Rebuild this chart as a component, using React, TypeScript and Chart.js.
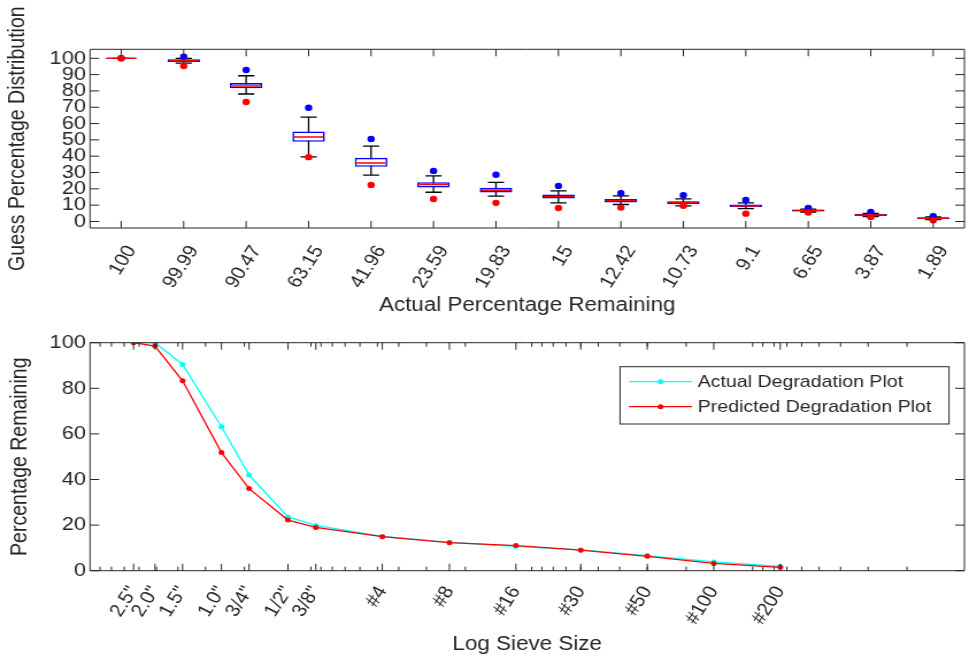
import React, { useEffect, useRef } from 'react';
import { Chart, registerables } from 'chart.js';

Chart.register(...registerables);

// ---------- data ----------
const boxCategories = ['100', '99.99', '90.47', '63.15', '41.96', '23.59', '19.83', '15', '12.42', '10.73', '9.1', '6.65', '3.87', '1.89'];
const boxQ1 = [99.7, 97.7, 81.6, 48.8, 33.5, 20.8, 17.7, 14.0, 11.6, 10.6, 8.9, 6.1, 3.4, 1.5];
const boxQ3 = [100.3, 99.4, 84.8, 55.2, 39.0, 24.1, 20.6, 16.5, 13.8, 12.4, 10.4, 7.3, 4.6, 2.6];
const boxMedian = [100, 98.5, 83.0, 51.7, 35.9, 22.6, 19.2, 15.3, 12.8, 11.6, 9.5, 6.7, 4.0, 2.0];
const boxWhiskerLow = [100, 97.0, 78.1, 39.6, 28.4, 17.9, 15.5, 11.4, 10.4, 9.5, 7.9, 5.8, 3.0, 1.2];
const boxWhiskerHigh = [100, 100.0, 89.3, 64.0, 46.2, 27.9, 23.9, 18.7, 15.7, 13.8, 11.4, 7.6, 5.0, 2.8];
const boxOutlierHigh = [100, 101.0, 92.8, 69.7, 50.5, 31.0, 28.6, 21.8, 17.3, 16.1, 13.2, 8.3, 5.8, 3.2];
const boxOutlierLow = [100, 95.3, 73.2, 39.4, 22.4, 13.8, 11.4, 8.3, 8.5, 9.6, 4.8, 5.5, 2.8, 0.7];
const topYTicks = [0, 10, 20, 30, 40, 50, 60, 70, 80, 90, 100];

const sieveLabels = ['2.5"', '2.0"', '1.5"', '1.0"', '3/4"', '1/2"', '3/8"', '#4', '#8', '#16', '#30', '#50', '#100', '#200'];
const sieveSizesMm = [63.5, 50.8, 38.1, 25.4, 19.05, 12.7, 9.5, 4.75, 2.36, 1.18, 0.6, 0.3, 0.15, 0.075];
const actualRemaining = [100, 100, 90.47, 63.15, 41.96, 23.59, 19.83, 15, 12.42, 10.73, 9.1, 6.65, 3.87, 1.89];
const predictedRemaining = [100, 98.5, 83.3, 51.8, 36.0, 22.2, 19.0, 14.9, 12.3, 11.0, 9.0, 6.3, 3.2, 1.5];
const bottomYTicks = [0, 20, 40, 60, 80, 100];
const logMinorMantissas = [1, 2, 3, 4, 5, 6, 7, 8, 9];
const logDecades = [0.01, 0.1, 1, 10];

// ---------- layout ----------
const W = 843;
const STRETCH = 969 / W;
const TOP_H = 330;
const BOT_H = 328;
const AXIS_COLOR = '#262626';
const FONT = "'Liberation Sans', Arial, Helvetica, sans-serif";

function framePlugin(isMajor: (v: number) => boolean) {
  return {
    id: 'frame',
    afterDraw(chart: any) {
      const { ctx, chartArea: a } = chart;
      const xs = chart.scales.x;
      const ys = chart.scales.y;
      ctx.save();
      ctx.strokeStyle = AXIS_COLOR;
      ctx.lineWidth = 1;
      ctx.beginPath();
      ctx.rect(a.left, a.top, a.right - a.left, a.bottom - a.top);
      ctx.stroke();
      ctx.beginPath();
      xs.ticks.forEach((t: any, i: number) => {
        const px = xs.getPixelForTick(i);
        if (px < a.left - 0.5 || px > a.right + 0.5) return;
        const len = isMajor(t.value) ? 7 : 4;
        ctx.moveTo(px, a.bottom);
        ctx.lineTo(px, a.bottom - len);
        ctx.moveTo(px, a.top);
        ctx.lineTo(px, a.top + len);
      });
      ys.ticks.forEach((_t: any, i: number) => {
        const py = ys.getPixelForTick(i);
        ctx.moveTo(a.left, py);
        ctx.lineTo(a.left + 8, py);
        ctx.moveTo(a.right, py);
        ctx.lineTo(a.right - 8, py);
      });
      ctx.stroke();
      ctx.restore();
    },
  };
}

const boxPartsPlugin = {
  id: 'boxParts',
  beforeDatasetsDraw(chart: any) {
    const { ctx } = chart;
    const ys = chart.scales.y;
    const meta = chart.getDatasetMeta(0);
    ctx.save();
    ctx.strokeStyle = '#000000';
    ctx.lineWidth = 1.3;
    ctx.beginPath();
    meta.data.forEach((bar: any, i: number) => {
      const x = bar.x;
      const hw = bar.width / 4;
      const yLo = ys.getPixelForValue(boxWhiskerLow[i]);
      const yHi = ys.getPixelForValue(boxWhiskerHigh[i]);
      ctx.moveTo(x, yLo);
      ctx.lineTo(x, yHi);
      ctx.moveTo(x - hw, yLo);
      ctx.lineTo(x + hw, yLo);
      ctx.moveTo(x - hw, yHi);
      ctx.lineTo(x + hw, yHi);
    });
    ctx.stroke();
    ctx.restore();
  },
  afterDatasetDraw(chart: any, args: any) {
    if (args.index !== 0) return;
    const { ctx } = chart;
    const ys = chart.scales.y;
    const meta = chart.getDatasetMeta(0);
    ctx.save();
    ctx.strokeStyle = '#ff0000';
    ctx.lineWidth = 1.5;
    ctx.beginPath();
    meta.data.forEach((bar: any, i: number) => {
      const y = ys.getPixelForValue(boxMedian[i]);
      ctx.moveTo(bar.x - bar.width / 2 + 1.5, y);
      ctx.lineTo(bar.x + bar.width / 2 - 1.5, y);
    });
    ctx.stroke();
    ctx.restore();
  },
};

const insideLegendPlugin = {
  id: 'insideLegend',
  afterDraw(chart: any) {
    const { ctx } = chart;
    const box = { left: 539.4, top: 36.7, right: 825.6, bottom: 94 };
    const rows = [51.7, 76.7];
    ctx.save();
    ctx.fillStyle = '#ffffff';
    ctx.fillRect(box.left, box.top, box.right - box.left, box.bottom - box.top);
    ctx.strokeStyle = AXIS_COLOR;
    ctx.lineWidth = 1;
    ctx.strokeRect(box.left, box.top, box.right - box.left, box.bottom - box.top);
    chart.data.datasets.forEach((ds: any, i: number) => {
      const y = rows[i];
      ctx.strokeStyle = ds.borderColor;
      ctx.lineWidth = 1.3;
      ctx.beginPath();
      ctx.moveTo(547.2, y);
      ctx.lineTo(602, y);
      ctx.stroke();
      ctx.fillStyle = ds.borderColor;
      ctx.beginPath();
      ctx.arc(574.6, y, 2.5, 0, Math.PI * 2);
      ctx.fill();
      ctx.fillStyle = AXIS_COLOR;
      ctx.font = `17px ${FONT}`;
      ctx.textAlign = 'left';
      ctx.textBaseline = 'middle';
      ctx.fillText(ds.label, 607, y + 0.5);
    });
    ctx.restore();
  },
};

function noPad(scale: any) {
  scale.paddingLeft = 0;
  scale.paddingRight = 0;
  scale.paddingTop = 0;
  scale.paddingBottom = 0;
}

export default function App() {
  const topRef = useRef<HTMLCanvasElement | null>(null);
  const botRef = useRef<HTMLCanvasElement | null>(null);

  useEffect(() => {
    const yTickFont = { family: FONT, size: 19 };
    const xTickFont = { family: FONT, size: 18 };
    const titleFont = { family: FONT, size: 19.5 };

    const topChart = new Chart(topRef.current as HTMLCanvasElement, {
      type: 'bar',
      data: {
        labels: boxCategories,
        datasets: [
          {
            type: 'bar',
            label: 'Box',
            data: boxCategories.map((_, i) => [boxQ1[i], boxQ3[i]]) as any,
            backgroundColor: '#ffffff',
            borderColor: '#0000ff',
            borderWidth: 1.6,
            borderSkipped: false,
            barPercentage: 0.52,
            categoryPercentage: 1,
            order: 3,
          },
          {
            type: 'line',
            label: 'High outliers',
            data: boxOutlierHigh,
            showLine: false,
            pointRadius: 3.2,
            pointBorderWidth: 0,
            pointBackgroundColor: '#0000ff',
            borderColor: '#0000ff',
            order: 2,
          },
          {
            type: 'line',
            label: 'Low outliers',
            data: boxOutlierLow,
            showLine: false,
            pointRadius: 3.2,
            pointBorderWidth: 0,
            pointBackgroundColor: '#ff0000',
            borderColor: '#ff0000',
            order: 1,
          },
        ] as any,
      },
      options: {
        responsive: false,
        animation: false,
        devicePixelRatio: 1,
        layout: { padding: { left: 0, right: 0.9, top: 49.3, bottom: 10 } },
        plugins: { legend: { display: false }, tooltip: { enabled: false } },
        scales: {
          x: {
            type: 'category',
            offset: true,
            grid: { display: false, drawTicks: false },
            border: { display: false },
            ticks: {
              font: xTickFont,
              color: AXIS_COLOR,
              minRotation: 60,
              maxRotation: 60,
              autoSkip: false,
              padding: 14,
              labelOffset: 9,
            },
            title: {
              display: true,
              text: 'Actual Percentage Remaining',
              font: titleFont,
              color: AXIS_COLOR,
              padding: { top: 0, bottom: 3 },
            },
            afterFit: (s: any) => {
              s.height = 92;
              noPad(s);
            },
          },
          y: {
            type: 'linear',
            min: -4,
            max: 105.5,
            grid: { display: false, drawTicks: false },
            border: { display: false },
            ticks: { font: yTickFont, color: AXIS_COLOR, padding: 3.5, autoSkip: false },
            afterBuildTicks: (s: any) => {
              s.ticks = topYTicks.map((v) => ({ value: v }));
            },
            title: {
              display: true,
              text: 'Guess Percentage Distribution',
              font: titleFont,
              color: AXIS_COLOR,
              padding: { top: 4, bottom: 0 },
            },
            afterFit: (s: any) => {
              s.width = 78.3;
              noPad(s);
            },
          },
        },
      } as any,
      plugins: [boxPartsPlugin, framePlugin(() => true)],
    });

    const minorTicks: number[] = [];
    logDecades.forEach((d) => logMinorMantissas.forEach((m) => minorTicks.push(m * d)));
    const xMin = 0.011;
    const xMax = 100;

    const botChart = new Chart(botRef.current as HTMLCanvasElement, {
      type: 'line',
      data: {
        datasets: [
          {
            label: 'Actual Degradation Plot',
            data: sieveSizesMm.map((x, i) => ({ x, y: actualRemaining[i] })),
            borderColor: '#00ffff',
            backgroundColor: '#00ffff',
            borderWidth: 1.3,
            pointRadius: 2.5,
            pointBorderWidth: 0,
            pointBackgroundColor: '#00ffff',
            order: 2,
          },
          {
            label: 'Predicted Degradation Plot',
            data: sieveSizesMm.map((x, i) => ({ x, y: predictedRemaining[i] })),
            borderColor: '#ff0000',
            backgroundColor: '#ff0000',
            borderWidth: 1.3,
            pointRadius: 2.5,
            pointBorderWidth: 0,
            pointBackgroundColor: '#ff0000',
            order: 1,
          },
        ],
      },
      options: {
        responsive: false,
        animation: false,
        devicePixelRatio: 1,
        layout: { padding: { left: 0, right: 0.9, top: 12.7, bottom: 0 } },
        plugins: { legend: { display: false }, tooltip: { enabled: false } },
        scales: {
          x: {
            type: 'logarithmic',
            reverse: true,
            min: xMin,
            max: xMax,
            grid: { display: false, drawTicks: false },
            border: { display: false },
            afterBuildTicks: (s: any) => {
              const vals = [...sieveSizesMm, ...minorTicks.filter((v) => v >= xMin && v <= xMax)];
              s.ticks = vals.map((v) => ({ value: v }));
            },
            ticks: {
              font: xTickFont,
              color: AXIS_COLOR,
              minRotation: 60,
              maxRotation: 60,
              autoSkip: false,
              padding: 12,
              labelOffset: 0,
              callback: (value: any) => {
                const idx = sieveSizesMm.indexOf(Number(value));
                return idx >= 0 ? sieveLabels[idx] : '';
              },
            },
            title: {
              display: true,
              text: 'Log Sieve Size',
              font: titleFont,
              color: AXIS_COLOR,
              padding: { top: 0, bottom: 1.6 },
            },
            afterFit: (s: any) => {
              s.height = 87.3;
              noPad(s);
            },
          },
          y: {
            type: 'linear',
            min: 0,
            max: 100,
            grid: { display: false, drawTicks: false },
            border: { display: false },
            ticks: { font: yTickFont, color: AXIS_COLOR, padding: 3.5, autoSkip: false },
            afterBuildTicks: (s: any) => {
              s.ticks = bottomYTicks.map((v) => ({ value: v }));
            },
            title: {
              display: true,
              text: 'Percentage Remaining',
              font: titleFont,
              color: AXIS_COLOR,
              padding: { top: 6, bottom: 0 },
            },
            afterFit: (s: any) => {
              s.width = 78.3;
              noPad(s);
            },
          },
        },
      } as any,
      plugins: [framePlugin((v: number) => sieveSizesMm.includes(v)), insideLegendPlugin],
    });

    return () => {
      topChart.destroy();
      botChart.destroy();
    };
  }, []);

  const canvasStyle = (h: number): React.CSSProperties => ({
    display: 'block',
    width: `${W}px`,
    height: `${h}px`,
    transform: `scaleX(${STRETCH})`,
    transformOrigin: '0 0',
  });

  return (
    <div style={{ position: 'absolute', left: 0, top: 0, width: 969, height: 658, background: '#ffffff', overflow: 'hidden' }}>
      <canvas ref={topRef} width={W} height={TOP_H} style={canvasStyle(TOP_H)} />
      <canvas ref={botRef} width={W} height={BOT_H} style={canvasStyle(BOT_H)} />
    </div>
  );
}
